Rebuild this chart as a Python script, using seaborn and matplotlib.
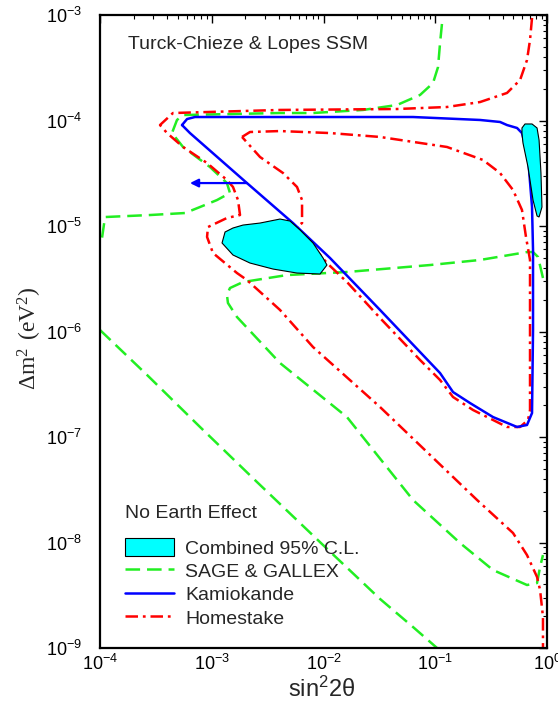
import numpy as np
import pandas as pd
import matplotlib
matplotlib.use("Agg")
import matplotlib.pyplot as plt
import seaborn as sns
from matplotlib.patches import Patch
from matplotlib.lines import Line2D
from matplotlib.ticker import LogLocator, FuncFormatter, NullFormatter

# ---------------- data (log10 sin^2 2theta , log10 dm^2) ----------------
# SAGE & GALLEX, upper contour
sage_a_lx = [-0.94, -0.957, -0.975, -1.02, -1.136, -1.342, -1.646, -2.094, -2.389, -3.257,
             -3.311, -3.356, -3.257, -3.016, -2.864, -2.837, -2.953, -3.105, -3.239, -3.553,
             -3.955, -3.982, -4.0]
sage_a_ly = [-3.085, -3.265, -3.493, -3.645, -3.758, -3.853, -3.90, -3.929, -3.929, -3.948,
             -3.995, -4.119, -4.251, -4.441, -4.593, -4.687, -4.754, -4.82, -4.877, -4.896,
             -4.915, -5.114, -5.152]
# SAGE & GALLEX, band
sage_b_lx = [-0.036, -0.080, -0.125, -0.179, -0.599, -1.047, -1.79, -2.327, -2.72, -2.837,
             -2.864, -2.855, -2.774, -2.389, -1.79, -1.199, -0.778, -0.483, -0.179, -0.089,
             -0.062, -0.036]
sage_b_ly = [-5.493, -5.294, -5.247, -5.247, -5.322, -5.370, -5.436, -5.465, -5.531, -5.588,
             -5.654, -5.73, -5.863, -6.299, -6.811, -7.597, -8.005, -8.261, -8.403, -8.384,
             -8.232, -8.119]
# SAGE & GALLEX, lower line
sage_c_lx = [-4.0, -3.579, -3.105, -2.595, -2.004, -1.494, -1.199, -0.984]
sage_c_ly = [-5.986, -6.412, -6.905, -7.427, -8.024, -8.535, -8.801, -9.0]

# Kamiokande (closed)
kam_lx = [-3.266, -3.221, -3.15, -2.389, -1.199, -0.599, -0.42, -0.358, -0.268, -0.224,
          -0.17, -0.134, -0.125, -0.125, -0.134, -0.179, -0.268, -0.483, -0.689, -0.841,
          -0.957, -1.494, -1.942, -2.273, -2.685, -3.195, -3.266]
kam_ly = [-4.043, -3.986, -3.967, -3.967, -3.967, -3.995, -4.014, -4.043, -4.071, -4.119,
          -4.346, -4.82, -5.228, -5.986, -6.773, -6.886, -6.905, -6.811, -6.678, -6.574,
          -6.394, -5.796, -5.303, -4.972, -4.593, -4.119, -4.043]

# Homestake, outer contour
home_a_lx = [-0.134, -0.152, -0.179, -0.241, -0.358, -0.599, -0.895, -1.342, -2.389, -3.347,
             -3.463, -3.40, -3.257, -3.042, -2.864, -2.81, -2.765, -2.747, -2.864, -3.034,
             -3.042, -2.989, -2.774, -2.685, -2.389, -2.094, -1.494, -0.626, -0.304, -0.179,
             -0.089, -0.062, -0.036, -0.036]
home_a_ly = [-3.028, -3.237, -3.427, -3.616, -3.739, -3.825, -3.872, -3.891, -3.90, -3.929,
             -4.043, -4.119, -4.251, -4.403, -4.564, -4.63, -4.754, -4.896, -4.924, -5.01,
             -5.104, -5.256, -5.446, -5.512, -5.796, -6.147, -6.716, -7.597, -7.91, -8.119,
             -8.327, -8.45, -8.706, -8.991]
# Homestake, inner contour (closed)
home_b_lx = [-2.729, -2.658, -2.389, -1.942, -1.494, -0.895, -0.573, -0.42, -0.304, -0.224,
             -0.188, -0.152, -0.152, -0.152, -0.17, -0.241, -0.358, -0.662, -0.841, -0.957,
             -1.136, -1.494, -1.79, -1.969, -2.121, -2.237, -2.192, -2.192, -2.237, -2.362,
             -2.568, -2.729]
home_b_ly = [-4.156, -4.109, -4.10, -4.119, -4.156, -4.251, -4.374, -4.498, -4.659, -4.848,
             -5.104, -5.322, -5.986, -6.744, -6.839, -6.905, -6.905, -6.744, -6.621, -6.46,
             -6.27, -5.872, -5.531, -5.351, -5.161, -5.01, -4.972, -4.754, -4.63, -4.498,
             -4.346, -4.156]

# Combined 95% C.L. regions
comb_a_lx = [-2.881, -2.908, -2.81, -2.658, -2.452, -2.237, -2.031, -1.969, -2.004, -2.094,
             -2.21, -2.30, -2.389, -2.568, -2.72, -2.81]
comb_a_ly = [-5.057, -5.161, -5.275, -5.351, -5.408, -5.446, -5.455, -5.37, -5.303, -5.161,
             -5.038, -4.953, -4.934, -4.972, -4.991, -5.019]
comb_b_lx = [-0.224, -0.197, -0.134, -0.089, -0.071, -0.054, -0.045, -0.071, -0.089, -0.125,
             -0.17, -0.215, -0.224]
comb_b_ly = [-4.071, -4.033, -4.033, -4.071, -4.185, -4.498, -4.82, -4.915, -4.905, -4.754,
             -4.441, -4.213, -4.119]

# Kamiokande arrow (start, end)
arrow_lx = [-2.685, -3.195]
arrow_ly = [-4.593, -4.593]

x_ticks = [1e-4, 1e-3, 1e-2, 1e-1, 1e0]
y_ticks = [1e-9, 1e-8, 1e-7, 1e-6, 1e-5, 1e-4, 1e-3]

legend_labels = ["Combined 95% C.L.", "SAGE & GALLEX", "Kamiokande", "Homestake"]

# ---------------- styling ----------------
sns.set_theme(style="white")
plt.rcParams["font.family"] = ["Liberation Sans", "DejaVu Sans"]
plt.rcParams["mathtext.fontset"] = "custom"
plt.rcParams["mathtext.rm"] = "Liberation Sans"
plt.rcParams["lines.scale_dashes"] = False

GREEN = "#22ee22"
BLUE = "#0000ff"
RED = "#ff0000"
CYAN = "#00ffff"
green_ls = (0, (10.5, 5))
red_ls = (0, (9, 3.5, 2, 3.5))

fig = plt.figure(figsize=(5.58, 7.07), dpi=100)
ax = fig.add_axes([100 / 558, 1 - 648 / 707, 447 / 558, 633 / 707])
ax.set_xscale("log")
ax.set_yscale("log")


def curve(lx, ly, color, ls, lw):
    df = pd.DataFrame({"x": np.power(10.0, lx), "y": np.power(10.0, ly)})
    sns.lineplot(data=df, x="x", y="y", sort=False, estimator=None, ax=ax,
                 color=color, linestyle=ls, linewidth=lw, zorder=2)


curve(sage_a_lx, sage_a_ly, GREEN, green_ls, 1.8)
curve(sage_b_lx, sage_b_ly, GREEN, green_ls, 1.8)
curve(sage_c_lx, sage_c_ly, GREEN, green_ls, 1.8)
curve(home_a_lx, home_a_ly, RED, red_ls, 1.8)
curve(home_b_lx, home_b_ly, RED, red_ls, 1.8)
curve(kam_lx, kam_ly, BLUE, "-", 1.8)

for lx, ly in [(comb_a_lx, comb_a_ly), (comb_b_lx, comb_b_ly)]:
    ax.fill(np.power(10.0, lx), np.power(10.0, ly), facecolor=CYAN,
            edgecolor="black", linewidth=0.8, zorder=3)

ax.annotate("", xy=(10 ** arrow_lx[1], 10 ** arrow_ly[1]),
            xytext=(10 ** arrow_lx[0], 10 ** arrow_ly[0]),
            arrowprops=dict(arrowstyle="-|>", color=BLUE, lw=1.6, mutation_scale=12,
                            shrinkA=0, shrinkB=0), zorder=4)

ax.set_xlim(x_ticks[0], x_ticks[-1])
ax.set_ylim(y_ticks[0], y_ticks[-1])

fmt = FuncFormatter(lambda v, p: r"$\mathregular{10^{%d}}$" % int(round(np.log10(v))))
ax.xaxis.set_major_locator(LogLocator(base=10))
ax.yaxis.set_major_locator(LogLocator(base=10))
ax.xaxis.set_minor_locator(LogLocator(base=10, subs=np.arange(2, 10), numticks=20))
ax.yaxis.set_minor_locator(LogLocator(base=10, subs=np.arange(2, 10), numticks=20))
ax.xaxis.set_major_formatter(fmt)
ax.yaxis.set_major_formatter(fmt)
ax.xaxis.set_minor_formatter(NullFormatter())
ax.yaxis.set_minor_formatter(NullFormatter())

ax.tick_params(which="both", direction="in", top=True, right=True, colors="black",
               labelsize=13)
ax.tick_params(which="major", length=6, width=1.0)
ax.tick_params(which="minor", length=3, width=0.8)
ax.tick_params(axis="y", which="major", pad=13)
ax.tick_params(axis="x", which="major", pad=4)

for sp in ax.spines.values():
    sp.set_color("black")
    sp.set_linewidth(1.6)

ax.set_xlabel(r"$\mathregular{sin^{2}2θ}$", fontsize=17)
ax.xaxis.set_label_coords(0.495, -0.045)
ax.set_ylabel(r"$\mathregular{Δm^{2}\ (eV^{2})}$", fontsize=17,
              fontfamily=["Liberation Serif", "DejaVu Serif"])
ax.yaxis.set_label_coords(-0.125, 0.49)

ax.text(0.063, 0.953, "Turck-Chieze & Lopes SSM", transform=ax.transAxes,
        fontsize=14, ha="left", va="center")
ax.text(0.056, 0.213, "No Earth Effect", transform=ax.transAxes,
        fontsize=14, ha="left", va="center")

handles = [Patch(facecolor=CYAN, edgecolor="black", linewidth=0.8),
           Line2D([], [], color=GREEN, linestyle=green_ls, linewidth=1.8),
           Line2D([], [], color=BLUE, linestyle="-", linewidth=1.8),
           Line2D([], [], color=RED, linestyle=red_ls, linewidth=1.8)]
ax.legend(handles, legend_labels, loc="upper left", bbox_to_anchor=(0.056, 0.173),
          frameon=False, fontsize=14, handlelength=2.5, handleheight=1.0,
          handletextpad=0.6, labelspacing=0.2, borderpad=0, borderaxespad=0)

fig.savefig("out.png", dpi=100)
